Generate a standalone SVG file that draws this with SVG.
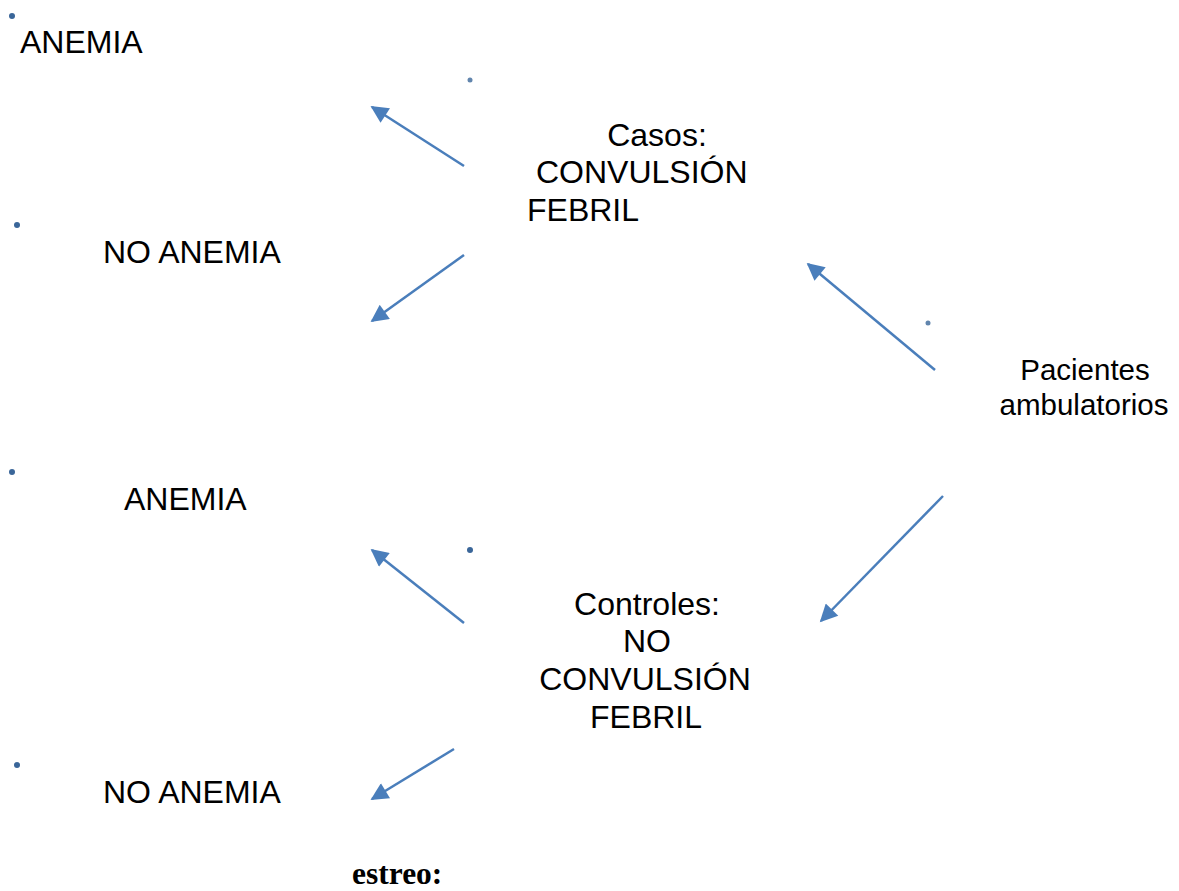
<svg xmlns="http://www.w3.org/2000/svg" width="1179" height="891" viewBox="0 0 1179 891">
<defs>
<marker id="ah" viewBox="0 0 10 10" refX="9" refY="5" markerWidth="8.5" markerHeight="7" markerUnits="strokeWidth" orient="auto">
<path d="M0,0 L10,5 L0,10 z" fill="#4a7ebb"/>
</marker>
<style>
.t{font-family:"Liberation Sans",Arial,sans-serif;font-size:32px;fill:#000}
.c{stroke:#4a7ebb;stroke-width:2.5;fill:none;marker-end:url(#ah)}
.d{fill:#3a6699}
</style>
</defs>
<rect width="1179" height="891" fill="#fff"/>
<g id="connectors">
<line class="c" x1="464" y1="166" x2="372" y2="107"/>
<line class="c" x1="464" y1="255" x2="372" y2="321"/>
<line class="c" x1="935" y1="370" x2="808" y2="264"/>
<line class="c" x1="943" y1="496" x2="821" y2="621"/>
<line class="c" x1="464" y1="623" x2="372" y2="550"/>
<line class="c" x1="454" y1="749" x2="372" y2="799"/>
</g>
<g id="dots">
<circle class="d" cx="12" cy="16" r="3"/>
<circle class="d" cx="470" cy="80" r="2.5" fill-opacity="0.8"/>
<circle class="d" cx="928" cy="323" r="2.5" fill-opacity="0.8"/>
<circle class="d" cx="17" cy="225" r="3"/>
<circle class="d" cx="12" cy="472" r="3"/>
<circle class="d" cx="470" cy="550" r="3"/>
<circle class="d" cx="17" cy="765" r="3"/>
</g>
<g id="anemia1"><text class="t" x="20" y="53">ANEMIA</text></g>
<g id="noanemia1"><text class="t" x="103" y="263">NO ANEMIA</text></g>
<g id="casos">
<text class="t" x="657" y="146" text-anchor="middle">Casos:</text>
<text class="t" x="536" y="183">CONVULSIÓN</text>
<text class="t" x="527" y="221">FEBRIL</text>
</g>
<g id="pacientes">
<text class="t" x="1085" y="380" text-anchor="middle" style="font-size:29.5px">Pacientes</text>
<text class="t" x="1084" y="415" text-anchor="middle" style="font-size:29.5px">ambulatorios</text>
</g>
<g id="anemia2"><text class="t" x="124" y="510">ANEMIA</text></g>
<g id="controles">
<text class="t" x="647" y="615" text-anchor="middle">Controles:</text>
<text class="t" x="647" y="652" text-anchor="middle">NO</text>
<text class="t" x="645" y="690" text-anchor="middle">CONVULSIÓN</text>
<text class="t" x="646" y="728" text-anchor="middle">FEBRIL</text>
</g>
<g id="noanemia2"><text class="t" x="103" y="803">NO ANEMIA</text></g>
<g id="estreo"><text x="352" y="884" style="font-family:'Liberation Serif','Times New Roman',serif;font-size:31.5px;font-weight:bold;fill:#000">estreo:</text></g>
</svg>
